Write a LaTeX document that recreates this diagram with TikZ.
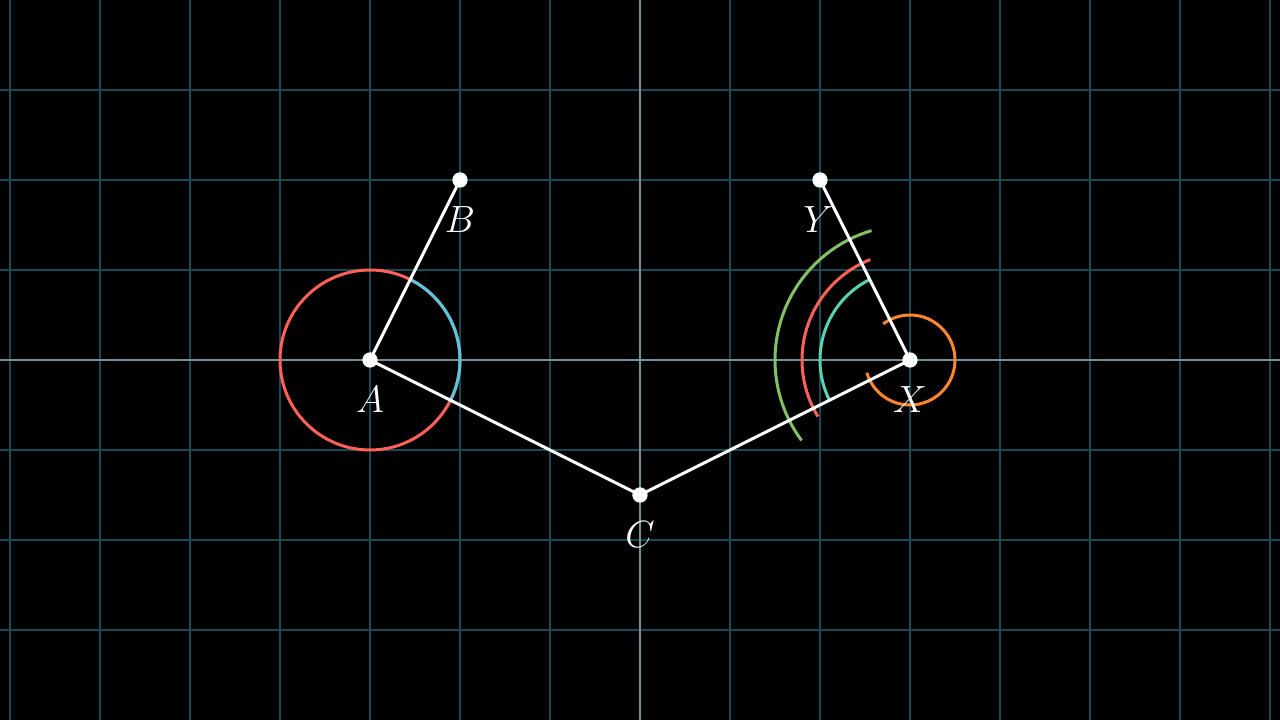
\documentclass[tikz,border=0pt]{standalone}
\begin{document}
\begin{tikzpicture}[x=1cm,y=1cm,
  gridline/.style={draw=gridc, line width=0.6pt},
  axisline/.style={draw=axisc, line width=0.6pt},
  seg/.style={draw=white, line width=0.95pt},
  arcline/.style={line width=0.95pt},
  dotnode/.style={circle, fill=white, inner sep=0pt, minimum size=0.17cm},
  lbl/.style={text=white, inner sep=0pt, font=\fontsize{12.5pt}{15pt}\selectfont}]
\definecolor{gridc}{HTML}{1B4A55}
\definecolor{axisc}{HTML}{6F9298}
\definecolor{mred}{HTML}{FC6255}
\definecolor{mblue}{HTML}{58C4DD}
\definecolor{mgreen}{HTML}{83C167}
\definecolor{mteal}{HTML}{5CD0B3}
\definecolor{morange}{HTML}{FF862F}
\fill[black] (-7.1111,-4) rectangle (7.1111,4);
\useasboundingbox (-7.1111,-4) rectangle (7.1111,4);
% grid
\foreach \i in {-7,...,-1,1,2,...,7} \draw[gridline] (\i,-4) -- (\i,4);
\foreach \j in {-3,-2,-1,1,2,3} \draw[gridline] (-7.1111,\j) -- (7.1111,\j);
\draw[axisline] (0,-4) -- (0,4);
\draw[axisline] (-7.1111,0) -- (7.1111,0);
% points
\coordinate (A) at (-3,0);
\coordinate (B) at (-2,2);
\coordinate (C) at (0,-1.5);
\coordinate (X) at (3,0);
\coordinate (Y) at (2,2);
% circle at A
\draw[arcline, mred] (A) circle (1);
\draw[arcline, mblue] ([shift={(-26.565:1)}]A) arc (-26.565:63.435:1);
% arcs at X
\draw[arcline, mteal] ([shift={(116.565:1)}]X) arc (116.565:206.565:1);
\draw[arcline, mred] ([shift={(111.565:1.2)}]X) arc (111.565:211.565:1.2);
\draw[arcline, mgreen] ([shift={(106.565:1.5)}]X) arc (106.565:216.565:1.5);
\draw[arcline, morange] ([shift={(196.565:0.5)}]X) arc (196.565:486.565:0.5);
% segments
\draw[seg] (A) -- (B);
\draw[seg] (A) -- (C);
\draw[seg] (C) -- (X);
\draw[seg] (X) -- (Y);
% dots
\node[dotnode] (dA) at (A) {};
\node[dotnode] (dB) at (B) {};
\node[dotnode] (dC) at (C) {};
\node[dotnode] (dX) at (X) {};
\node[dotnode] (dY) at (Y) {};
% labels
\node[lbl] (lA) at (-3,-0.44) {$A$};
\node[lbl] (lB) at (-2,1.56) {$B$};
\node[lbl] (lC) at (0,-1.94) {$C$};
\node[lbl] (lX) at (3,-0.44) {$X$};
\node[lbl] (lY) at (1.98,1.56) {$Y$};
\end{tikzpicture}
\end{document}
